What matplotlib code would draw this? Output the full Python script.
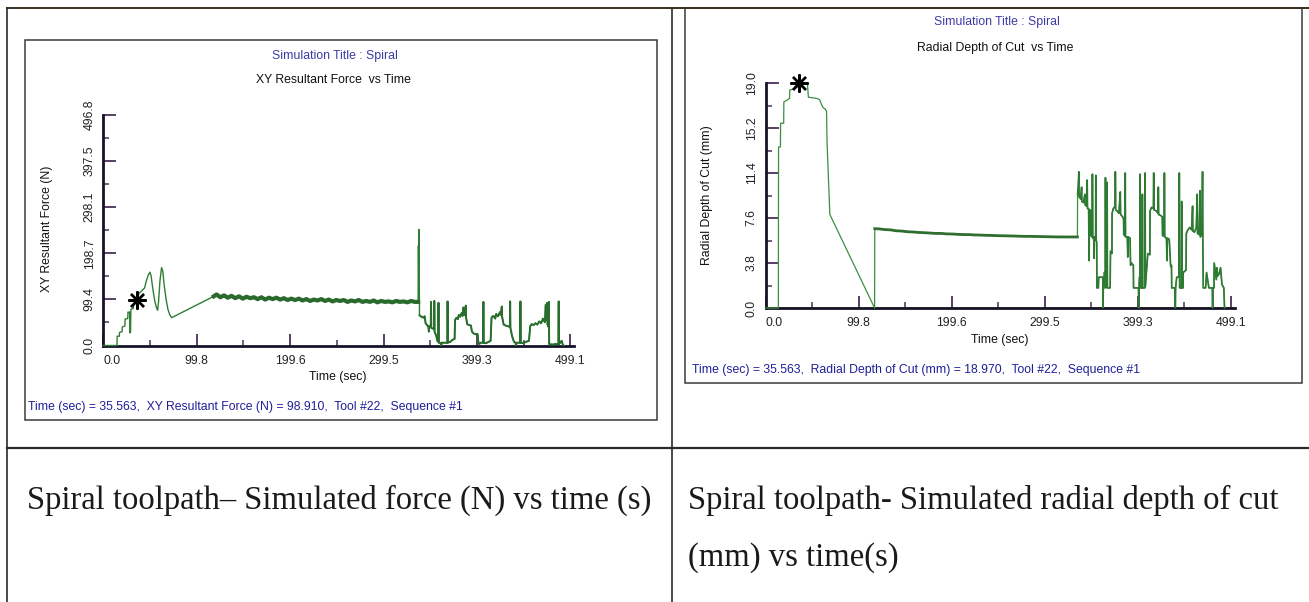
import matplotlib
matplotlib.use("Agg")
import matplotlib.pyplot as plt
from matplotlib.patches import Rectangle
from matplotlib.lines import Line2D
import numpy as np

# ---------------- data ----------------
x_ticks = [0.0, 99.8, 199.6, 299.5, 399.3, 499.1]
x_ticklabels = ["0.0", "99.8", "199.6", "299.5", "399.3", "499.1"]
force_yticks = [0.0, 99.4, 198.7, 298.1, 397.5, 496.8]
force_yticklabels = ["0.0", "99.4", "198.7", "298.1", "397.5", "496.8"]
depth_yticks = [0.0, 3.8, 7.6, 11.4, 15.2, 19.0]
depth_yticklabels = ["0.0", "3.8", "7.6", "11.4", "15.2", "19.0"]

star_time = 35.563
star_force = 98.910
star_depth = 18.970

# XY resultant force (N) vs time (s)
force_t = [0, 14.5, 14.7, 17.0, 17.2, 20.0, 20.2, 23.0, 23.2, 26.0, 26.3, 28.0, 28.4, 29.0, 29.4,
           32.0, 32.3, 35.6, 37.0, 38.0, 41.0, 44.0, 46.0, 48.0, 49.7, 51.0, 53.0, 55.0, 57.0,
           58.0, 59.0, 60.5, 62.2, 63.5, 65.0, 67.0, 69.0, 71.0, 73.0,
           118, 121, 125, 129, 133, 137, 141, 145, 149, 153, 157, 161, 165, 169, 173, 177, 181,
           185, 189, 193, 197, 201, 205, 209, 213, 217, 221, 225, 229, 233, 237, 241, 245, 249,
           253, 257, 261, 265, 269, 273, 277, 281, 285, 289, 293, 297, 301, 305, 309, 313, 317,
           321, 325, 329, 333, 336.5,
           336.8, 337.1, 337.4, 337.7, 338.0,
           340, 342, 343.5, 344.5, 346, 347.5, 348, 348.5, 350, 350.3, 350.6, 352.5, 353.6, 353.8,
           354.1, 356, 357, 358, 358.3, 358.6, 361, 361.3, 361.6, 365, 367.8, 368, 368.3, 371,
           373, 375.5,
           376, 377.5, 379, 380, 381.5, 383, 384, 385, 385.3, 386.5, 387.5, 387.8, 389, 391, 393,
           394, 396, 398, 400, 401, 402, 403, 406, 406.3, 406.6, 409, 412, 414,
           415, 417, 419, 420, 422, 424, 425, 426, 426.3, 428, 430, 432, 434.6, 434.9, 435.2, 437,
           439, 441, 441.3, 441.6, 444, 445.6, 445.9, 446.2, 449, 452, 455,
           456.4, 458, 460, 462, 464, 466, 468, 470, 472, 473, 473.3, 474.5, 474.8, 476, 476.3,
           476.6, 480, 483, 486.5, 486.8, 487.1, 489, 490, 491, 492]
force_v = [0, 0, 20, 20, 28, 30, 40, 42, 57, 58, 72, 72, 27, 30, 78,
           80, 90, 98.9, 105, 112, 118, 124, 140, 152, 158, 150, 120, 95, 80,
           76, 95, 140, 168, 160, 130, 100, 78, 66, 60,
           106, 110, 104, 108, 103, 107, 102, 106, 101, 105, 102, 104, 100, 104, 99, 103, 100,
           103, 99, 102, 98, 101, 98, 101, 97, 100, 96, 99, 97, 100, 96, 99, 95, 98,
           96, 98, 94, 97, 95, 98, 94, 96, 94, 97, 93, 96, 94, 95, 93, 96, 94,
           95, 93, 96, 94, 94,
           215, 150, 250, 140, 65,
           62, 60, 63, 48, 44, 40, 30, 42, 42, 94, 38, 36, 35, 96,
           30, 20, 10, 8, 92, 6, 5, 0, 6, 6, 6, 95, 6, 8,
           12, 14,
           55, 60, 57, 66, 62, 70, 64, 82, 65, 70, 86, 60, 46, 44, 43,
           30, 26, 24, 25, 5, 3, 6, 6, 94, 6, 5, 8, 10,
           60, 64, 58, 68, 63, 72, 66, 84, 62, 45, 43, 42, 40, 95, 38, 20,
           8, 5, 0, 6, 6, 6, 95, 6, 5, 8, 10,
           42, 46, 44, 48, 45, 52, 48, 58, 50, 88, 55, 92, 45, 40, 94,
           3, 2, 3, 3, 95, 3, 8, 10, 3, 0]

# Radial depth of cut (mm) vs time (s)
depth_t = [0, 13.8, 14.0, 16.0, 16.2, 19.5, 19.7, 22.0, 25.8, 26.0, 30.0, 33.0, 35.6, 40.0,
           45.0, 46.0, 55.0, 58.0, 60.0, 62.0, 64.0, 65.5, 66.0, 67.5, 69.0, 117.0,
           117.2, 122, 128, 134, 140, 146, 152, 158, 164, 170, 176, 182, 188, 194, 200, 206,
           212, 218, 224, 230, 236, 242, 248, 254, 260, 266, 272, 278, 284, 290, 296, 302,
           308, 314, 320, 326, 334.5,
           334.7, 335.5, 336.0, 336.3, 338, 339, 339.3, 341, 342.5, 342.8, 344.5, 345, 345.3,
           346.5, 347, 347.5, 348.7, 349, 350.4, 350.6, 350.9, 352, 352.4, 352.8, 354, 354.2,
           354.5, 355.2, 355.4, 357, 357.3, 361.7, 362.0, 362.3, 363, 363.3, 364.4, 364.6, 364.9,
           366.2, 366.4, 366.7, 369.6, 370, 371.5,
           371.7, 373, 375, 375.2, 375.5, 377, 379, 380.5, 380.8, 383, 384, 384.2, 385.6, 385.8,
           386.1, 388, 388.5, 389, 391, 391.5, 392.5, 394.5, 394.7, 400.0, 400.3, 400.6, 401.0,
           401.6, 401.8, 402.1, 404, 404.2, 404.5, 406.9, 407.1, 407.4, 410, 412.2,
           412.4, 414, 416, 416.3, 416.6, 419, 421, 421.3, 421.6, 424, 425.5, 425.8, 427.5,
           427.8, 428.1, 430, 430.5, 431, 433, 434.5, 435.4, 435.6, 439.2, 439.5, 439.8, 441,
           443.5, 443.8, 444.1, 446, 446.3, 446.6, 447.8, 448, 451,
           451.3, 453, 455, 457, 458, 458.3, 460, 462, 463, 463.3, 465, 466, 466.3, 468, 468.7,
           469, 469.5, 472, 473, 475.5, 479.2, 479.5, 479.8, 481, 481.2, 482.5, 483.5, 484, 485,
           486.5, 488, 489.5, 491.5, 492.3]
depth_v = [0, 0, 13.6, 13.6, 15.6, 15.6, 17.4, 17.5, 17.7, 18.4, 18.5, 18.9, 18.97, 19.0,
           18.9, 17.8, 17.7, 17.6, 17.2, 16.9, 16.8, 16.6, 14.0, 11.0, 7.9, 0.0,
           6.7, 6.68, 6.62, 6.6, 6.52, 6.5, 6.44, 6.42, 6.38, 6.36, 6.33, 6.3, 6.3, 6.26,
           6.25, 6.22, 6.2, 6.2, 6.17, 6.16, 6.14, 6.13, 6.11, 6.1, 6.09, 6.08, 6.06, 6.05,
           6.05, 6.04, 6.03, 6.02, 6.01, 6.0, 6.0, 6.0, 6.0,
           9.6, 10.4, 11.5, 9.4, 9.2, 10.2, 9.0, 8.9, 9.6, 8.7, 8.6, 10.8, 8.4,
           8.4, 4.0, 8.3, 8.2, 6.1, 6.0, 11.3, 5.9, 6.0, 4.2, 6.0, 5.8, 11.2,
           5.7, 5.6, 1.7, 1.7, 2.6, 2.6, 0.0, 1.7, 1.7, 3.0, 3.0, 11.0, 1.7,
           1.8, 10.6, 1.7, 1.7, 4.8, 4.6,
           8.0, 8.4, 8.6, 11.5, 8.3, 8.2, 8.0, 9.8, 7.9, 7.7, 7.5, 6.2, 6.1, 11.4,
           6.0, 6.0, 4.3, 6.0, 5.9, 3.6, 3.8, 3.6, 1.7, 1.7, 0.0, 1.7, 2.6,
           2.6, 11.3, 1.7, 1.7, 9.6, 1.7, 1.7, 11.4, 1.8, 4.6, 4.5,
           8.2, 8.5, 8.4, 11.4, 8.3, 8.2, 8.0, 10.2, 7.9, 7.8, 7.7, 6.1, 6.1,
           11.4, 6.0, 5.9, 4.0, 5.9, 5.8, 3.5, 3.6, 1.7, 1.7, 0.0, 1.7, 2.6,
           2.6, 11.4, 1.7, 1.7, 9.0, 1.7, 1.7, 3.0, 3.2,
           6.3, 6.6, 6.8, 6.6, 8.6, 6.5, 6.4, 6.8, 9.6, 6.3, 6.2, 9.9, 6.0, 6.2, 11.5,
           5.8, 1.7, 1.7, 3.0, 1.7, 1.7, 0.0, 1.7, 1.7, 3.8, 3.0, 2.4, 3.4, 2.7,
           2.9, 3.4, 2.0, 1.7, 0.0]

captions = ["Spiral toolpath\u2013 Simulated force (N) vs time (s)",
            "Spiral toolpath- Simulated radial depth of cut",
            "(mm) vs time(s)"]

# ---------------- layout helpers ----------------
W, H = 1309, 602
fig = plt.figure(figsize=(W / 100, H / 100), dpi=100)
fig.patch.set_facecolor("white")
SANS = ["Liberation Sans", "DejaVu Sans"]
SERIF = ["Liberation Serif", "DejaVu Serif"]
FS = 8.8


def fx(px):
    return px / W


def fy(py):
    return 1 - py / H


def ftext(px, py, s, **kw):
    fig.text(fx(px), fy(py), s, **kw)


def fline(x0, y0, x1, y1, lw=1.2, color="#2a2a2a"):
    fig.add_artist(Line2D([fx(x0), fx(x1)], [fy(y0), fy(y1)], lw=lw, color=color,
                          transform=fig.transFigure))


def frect(x0, y0, x1, y1, lw=1.1, color="#3a3a3a"):
    fig.add_artist(Rectangle((fx(x0), fy(y1)), fx(x1) - fx(x0), fy(y0) - fy(y1), fill=False,
                             lw=lw, edgecolor=color, transform=fig.transFigure))


# table grid
fline(7, 8, 1309, 8, lw=1.4, color="#3a3020")
fline(7, 8, 7, 602, lw=1.2)
fline(672, 8, 672, 602, lw=1.2)
fline(7, 448, 1309, 448, lw=1.6)

# screenshot frames
frect(25, 40, 657, 420)
frect(685, 8, 1302, 383)

TITLE_BLUE = "#3b3ba6"
STATUS_BLUE = "#1f1f9a"
AX_COL = "#141428"
TICK_COL = "#4a3058"


def setup_axes(ax, yticks, yticklabels, ymax):
    ax.set_xlim(0, 503.5)
    ax.set_ylim(0, ymax)
    for s in ("top", "right"):
        ax.spines[s].set_visible(False)
    for s in ("left", "bottom"):
        ax.spines[s].set_linewidth(2.0)
        ax.spines[s].set_color(AX_COL)
    ax.set_xticks(x_ticks)
    ax.set_xticklabels(x_ticklabels, fontsize=FS, family=SANS)
    ax.set_xticks([(a + b) / 2 for a, b in zip(x_ticks[:-1], x_ticks[1:])], minor=True)
    ax.set_yticks(yticks)
    ax.set_yticklabels(yticklabels, fontsize=FS, family=SANS, rotation=90, va="center")
    ax.set_yticks([(a + b) / 2 for a, b in zip(yticks[:-1], yticks[1:])], minor=True)
    ax.tick_params(which="major", direction="in", length=9, width=1.3, color=TICK_COL,
                   labelcolor="#222222")
    ax.tick_params(which="minor", direction="in", length=4.5, width=1.1, color=TICK_COL)
    ax.tick_params(axis="x", which="major", pad=6.5)
    ax.tick_params(axis="y", which="major", pad=5.5)
    ax.get_xticklabels()[0].set_ha("left")
    ax.patch.set_alpha(0)


# ---------------- left chart: force ----------------
axL = fig.add_axes([fx(103.4), fy(345.5), (574.3 - 103.4) / W, (345.5 - 115) / H])
setup_axes(axL, force_yticks, force_yticklabels, 496.8)
ft = np.array(force_t, dtype=float)
fv = np.array(force_v, dtype=float)
axL.plot(ft, fv, color="#2f7d34", lw=1.0, clip_on=False, zorder=3)
band = (ft >= 118) & (ft <= 336.5)
axL.plot(ft[band], fv[band], color="#2a6a2c", lw=3.0, zorder=3)
chaos = ft >= 338
axL.plot(ft[chaos], fv[chaos], color="#2a6e2e", lw=1.4, zorder=3)
axL.plot([star_time], [star_force], marker=(8, 2, 0), ms=13, mew=1.7, color="black",
         zorder=5, clip_on=False)

ftext(335, 56, "Simulation Title : Spiral", ha="center", va="center", fontsize=FS,
      color=TITLE_BLUE, family=SANS)
ftext(333, 80, "XY Resultant Force  vs Time", ha="center", va="center", fontsize=FS,
      color="#111111", family=SANS)
ftext(47, 229, "XY Resultant Force (N)", ha="center", va="center", rotation=90,
      fontsize=FS, color="#111111", family=SANS)
ftext(338, 377, "Time (sec)", ha="center", va="center", fontsize=FS, color="#111111",
      family=SANS)
ftext(28, 407, f"Time (sec) = {star_time:.3f},  XY Resultant Force (N) = {star_force:.3f},  "
      f"Tool #22,  Sequence #1", ha="left", va="center", fontsize=FS, color=STATUS_BLUE,
      family=SANS)

# ---------------- right chart: radial depth ----------------
axR = fig.add_axes([fx(765.5), fy(308), (1235 - 765.5) / W, (308 - 83) / H])
setup_axes(axR, depth_yticks, depth_yticklabels, 19.0)
dt = np.array(depth_t, dtype=float)
dv = np.array(depth_v, dtype=float)
axR.axhline(0.0, color="#e08a2a", lw=1.2, zorder=2)
axR.plot(dt, dv, color="#3c8f40", lw=0.9, clip_on=False, zorder=3)
bandR = (dt >= 117.2) & (dt <= 334.5)
axR.plot(dt[bandR], dv[bandR], color="#2e6e30", lw=2.0, zorder=3)
chaosR = dt >= 334.7
axR.plot(dt[chaosR], dv[chaosR], color="#2f7a33", lw=1.2, zorder=3)
axR.plot([star_time], [star_depth], marker=(8, 2, 0), ms=13, mew=1.7, color="black",
         zorder=5, clip_on=False)

ftext(997, 22, "Simulation Title : Spiral", ha="center", va="center", fontsize=FS,
      color=TITLE_BLUE, family=SANS)
ftext(995, 48, "Radial Depth of Cut  vs Time", ha="center", va="center", fontsize=FS,
      color="#111111", family=SANS)
ftext(707, 195, "Radial Depth of Cut (mm)", ha="center", va="center", rotation=90,
      fontsize=FS, color="#111111", family=SANS)
ftext(1000, 340, "Time (sec)", ha="center", va="center", fontsize=FS, color="#111111",
      family=SANS)
ftext(692, 370, f"Time (sec) = {star_time:.3f},  Radial Depth of Cut (mm) = {star_depth:.3f},  "
      f"Tool #22,  Sequence #1", ha="left", va="center", fontsize=FS, color=STATUS_BLUE,
      family=SANS)

# ---------------- captions ----------------
CFS = 23.5
ftext(27, 500, captions[0], ha="left", va="center", fontsize=CFS, color="#1a1a1a",
      family=SERIF)
ftext(688, 500, captions[1], ha="left", va="center", fontsize=CFS, color="#1a1a1a",
      family=SERIF)
ftext(688, 558, captions[2], ha="left", va="center", fontsize=CFS, color="#1a1a1a",
      family=SERIF)

fig.savefig("out.png", dpi=100)
